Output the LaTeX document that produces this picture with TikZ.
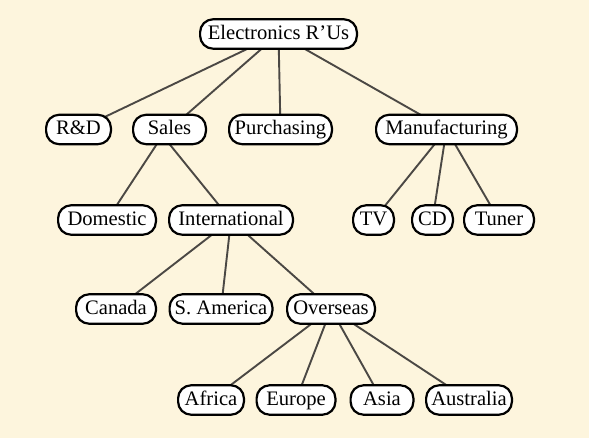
\documentclass[tikz,border=0pt]{standalone}
\usepackage{fontspec}
\setmainfont{Liberation Serif}
\definecolor{bgcream}{RGB}{253,245,221}
\definecolor{edgegray}{RGB}{75,72,68}
\pgfdeclarelayer{bg}
\pgfdeclarelayer{edges}
\pgfsetlayers{bg,edges,main}
\begin{document}
\begin{tikzpicture}[x=0.5pt,y=-0.5pt,
  box/.style={draw=black,fill=white,line width=1.1pt,rounded corners=6.5pt,
    text height=7.4pt,text depth=2.3pt,inner xsep=2pt,inner ysep=2.5pt,
    font=\fontsize{10.3}{12}\selectfont},
  link/.style={draw=edgegray,line width=0.95pt}]
\begin{pgfonlayer}{bg}
\fill[bgcream] (0,0) rectangle (589,438);
\end{pgfonlayer}
\useasboundingbox (0,0) rectangle (589,438);
\node[box,minimum width=78.4pt] (root) at (278.5,34) {Electronics R’Us};
\node[box,minimum width=32.4pt] (rd) at (78.5,129.5) {R\&D};
\node[box,minimum width=36.4pt] (sales) at (169.5,129.5) {Sales};
\node[box,minimum width=51.4pt] (purch) at (280.5,129.5) {Purchasing};
\node[box,minimum width=70.4pt] (manu) at (446.5,129.5) {Manufacturing};
\node[box,minimum width=48.9pt] (dom) at (107,220) {Domestic};
\node[box,minimum width=61.9pt] (intl) at (231,220) {International};
\node[box,minimum width=20.4pt] (tv) at (373.5,220) {TV};
\node[box,minimum width=20.4pt] (cd) at (432.5,220) {CD};
\node[box,minimum width=34.9pt] (tuner) at (499,220) {Tuner};
\node[box,minimum width=39.9pt] (canada) at (116,309) {Canada};
\node[box,minimum width=51.4pt] (sam) at (221,309) {S. America};
\node[box,minimum width=43.9pt] (over) at (331,309) {Overseas};
\node[box,minimum width=32.9pt] (africa) at (211,400) {Africa};
\node[box,minimum width=39.4pt] (europe) at (296,400) {Europe};
\node[box,minimum width=31.4pt] (asia) at (382,400) {Asia};
\node[box,minimum width=42.9pt] (austr) at (469,400) {Australia};
\begin{pgfonlayer}{edges}
\foreach \a/\b in {root/rd,root/sales,root/purch,root/manu,manu/tv,manu/cd,manu/tuner,intl/canada,intl/sam,intl/over,over/africa,over/europe,over/asia,over/austr}
  \draw[link] (\a.center) -- (\b.center);
\foreach \b in {dom,intl}
  \draw[link] ([shift={(-3.5pt,-3pt)}]sales.center) -- (\b.center);
\end{pgfonlayer}
\end{tikzpicture}
\end{document}
